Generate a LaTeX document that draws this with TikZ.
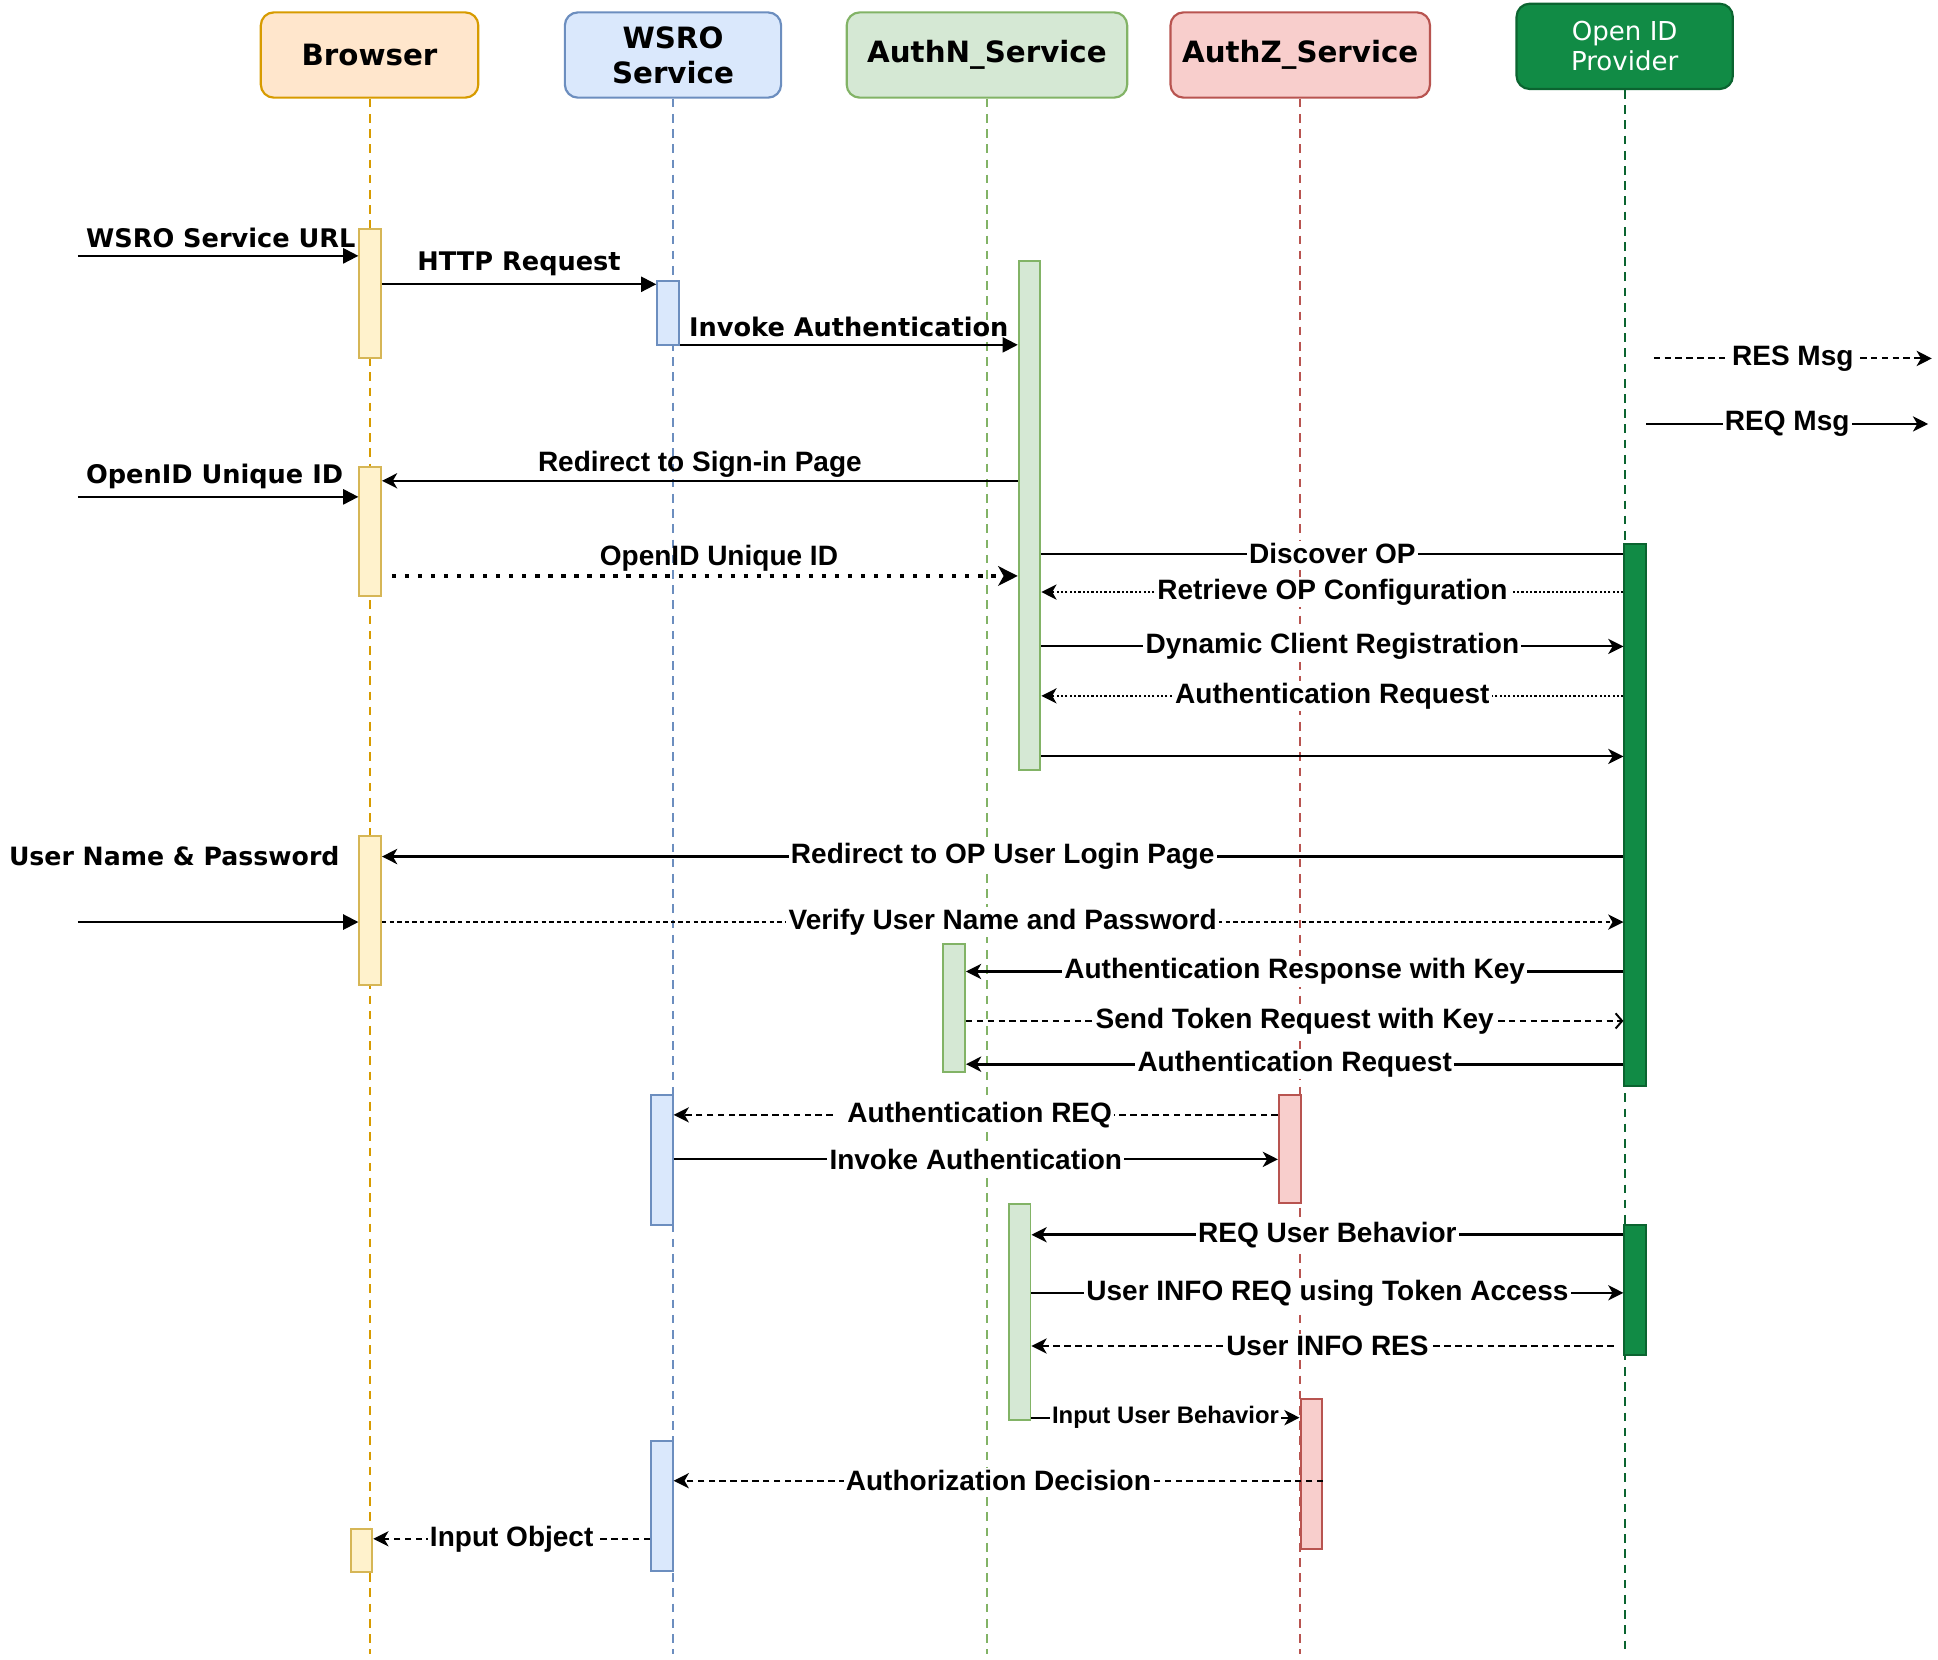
\documentclass[tikz,border=0pt]{standalone}
\usepackage{fontspec}
\setmainfont{Liberation Sans}
\newfontfamily\dejavu{DejaVu Sans}
\usetikzlibrary{arrows.meta}

\definecolor{orgfill}{HTML}{FFE6CC}
\definecolor{orgline}{HTML}{D79B00}
\definecolor{bluefill}{HTML}{DAE8FC}
\definecolor{blueline}{HTML}{6C8EBF}
\definecolor{grnfill}{HTML}{D5E8D4}
\definecolor{grnline}{HTML}{82B366}
\definecolor{redfill}{HTML}{F8CECC}
\definecolor{redline}{HTML}{B85450}
\definecolor{yelfill}{HTML}{FFF2CC}
\definecolor{yelline}{HTML}{D6B656}
\definecolor{opfill}{HTML}{118B45}
\definecolor{opline}{HTML}{0B6430}

\begin{document}
\begin{tikzpicture}[x=0.02cm, y=-0.02cm,
  head/.style={draw, rounded corners=6pt, line width=1pt, minimum height=1.38cm,
    align=center, font=\dejavu\bfseries\fontsize{13.5}{16}\selectfont},
  life/.style={line width=0.9pt, dash pattern=on 4pt off 3pt},
  bar/.style={draw, line width=0.9pt, minimum width=0.35cm, inner sep=0pt},
  ybar/.style={bar, draw=yelline, fill=yelfill},
  bbar/.style={bar, draw=blueline, fill=bluefill},
  gbar/.style={bar, draw=grnline, fill=grnfill},
  rbar/.style={bar, draw=redline, fill=redfill},
  obar/.style={bar, draw=opline, fill=opfill},
  msg/.style={line width=0.9pt},
  lbl/.style={fill=white, inner sep=1pt, font=\bfseries\fontsize{12.9}{15}\selectfont},
  sidelbl/.style={font=\dejavu\bfseries\fontsize{11.8}{14}\selectfont},
  tri/.style={-{Triangle[length=7pt,width=7pt]}},
  stl/.style={-{Stealth[length=7pt,width=7pt,inset=2pt]}},
  opn/.style={-{Straight Barb[length=3pt,width=7pt]}},
  dsh/.style={dash pattern=on 3pt off 2pt},
  dts/.style={dash pattern=on 1pt off 1pt}
]
\useasboundingbox (0,0) rectangle (1568,1343);

% participants
\node[head, draw=orgline, fill=orgfill, minimum width=3.52cm] (browser) at (299,44.5) {Browser};
\node[head, draw=blueline, fill=bluefill, minimum width=3.5cm] (wsro) at (544.5,44.5) {WSRO\\Service};
\node[head, draw=grnline, fill=grnfill, minimum width=4.54cm] (authn) at (798.5,44.5) {AuthN\_Service};
\node[head, draw=redline, fill=redfill, minimum width=4.2cm] (authz) at (1052,44.5) {AuthZ\_Service};
\node[head, draw=opline, fill=opfill, minimum width=3.5cm, text=white,
  font=\dejavu\fontsize{12}{13.7}\selectfont] (op) at (1314.5,37.5) {Open ID\\Provider};

% lifelines
\foreach \h/\c in {browser/orgline, wsro/blueline, authn/grnline, authz/redline, op/opline}
  \draw[life, \c] (\h.south) -- (\h.south |- 0,1338);

% activation bars
\node[ybar, minimum height=2.1cm] (b1) at (299.5,237.5) {};
\node[ybar, minimum height=2.08cm] (b2) at (299.5,430) {};
\node[ybar, minimum height=2.42cm] (b3) at (299.5,736.5) {};
\node[ybar, minimum height=0.7cm] (b4) at (292.5,1254.5) {};
\node[bbar, minimum height=1.04cm] (w1) at (540.5,253) {};
\node[bbar, minimum height=2.1cm] (w2) at (535.5,938.5) {};
\node[bbar, minimum height=2.1cm] (w3) at (535.5,1218.5) {};
\node[gbar, minimum height=8.24cm] (n1) at (833,417) {};
\node[gbar, minimum height=2.06cm] (n2) at (772,815.5) {};
\node[gbar, minimum height=3.5cm] (n3) at (825,1061.5) {};
\node[rbar, minimum height=1.74cm] (z1) at (1043.5,929.5) {};
\node[rbar, minimum height=2.42cm] (z2) at (1061,1192.5) {};
\node[obar, minimum height=8.78cm] (p1) at (1323,659.5) {};
\node[obar, minimum height=2.1cm] (p2) at (1323,1043.5) {};

% legend
\coordinate (resA) at (1338,290);
\coordinate (resB) at (1563,290);
\draw[msg, dsh, stl] (resA) -- node[lbl]{RES Msg} (resB);
\coordinate (reqA) at (1332,343);
\coordinate (reqB) at (1560,343);
\draw[msg, stl] (reqA) -- node[lbl]{REQ Msg} (reqB);

% sign-in
\coordinate (in1) at (63,207);
\draw[msg, tri] (in1) -- (b1.west |- in1) node[pos=0, above right, sidelbl] {WSRO Service URL};
\draw[msg, tri] (b1.east |- 0,230) -- node[above, sidelbl] {HTTP Request} (w1.west |- 0,230);
\draw[msg, tri] (w1.east |- 0,279) -- node[above, sidelbl] {Invoke Authentication} (n1.west |- 0,279);
\draw[msg, stl] (n1.west |- 0,389) -- node[above, lbl, fill=none] {Redirect to Sign-in Page} (b2.east |- 0,389);
\coordinate (in2) at (63,402);
\draw[msg, tri] (in2) -- (b2.west |- in2) node[pos=0, above right, sidelbl] {OpenID Unique ID};
\draw[line width=2pt, dash pattern=on 2pt off 4pt, -{Stealth[length=9pt,width=9pt,inset=2.5pt]},
  shorten <=0.16cm] (b2.east |- 0,466) -- node[pos=0.53, above, lbl, fill=none] {OpenID Unique ID} (n1.west |- 0,466);

% OP discovery
\draw[msg] (n1.east |- 0,448) -- node[lbl] {Discover OP} (p1.west |- 0,448);
\draw[msg, dts, stl] (p1.west |- 0,479) -- node[lbl] {Retrieve OP Configuration} (n1.east |- 0,479);
\draw[msg, stl] (n1.east |- 0,523) -- node[lbl] {Dynamic Client Registration} (p1.west |- 0,523);
\draw[msg, dts, stl] (p1.west |- 0,563) -- node[lbl] {Authentication Request} (n1.east |- 0,563);
\draw[msg, stl] (n1.east |- 0,612) -- (p1.west |- 0,612);

% user login
\draw[line width=1.6pt, stl] (p1.west |- 0,693) -- node[lbl] {Redirect to OP User Login Page} (b3.east |- 0,693);
\node[sidelbl, anchor=east, inner sep=0pt, font=\dejavu\bfseries\fontsize{11.6}{14}\selectfont] (unpw) at (275,693) {User Name \& Password};
\coordinate (in3) at (63,746);
\draw[msg, tri] (in3) -- (b3.west |- in3);
\draw[msg, dash pattern=on 2pt off 1.5pt, stl] (b3.east |- 0,746) -- node[lbl] {Verify User Name and Password} (p1.west |- 0,746);

% token
\draw[line width=1.3pt, stl] (p1.west |- 0,786) -- node[lbl] {Authentication Response with Key} (n2.east |- 0,786);
\draw[msg, dsh, opn] (n2.east |- 0,826) -- node[lbl] {Send Token Request with Key} (p1.west |- 0,826);
\draw[line width=1.3pt, stl] (p1.west |- 0,861) -- node[lbl] {Authentication Request} (n2.east |- 0,861);

% authorization
\draw[msg, dsh, stl] (z1.west |- 0,902) -- node[lbl] {\ Authentication REQ\ } (w2.east |- 0,902);
\draw[msg, stl] (w2.east |- 0,938) -- node[lbl] {Invoke Authentication} (z1.west |- 0,938);
\draw[line width=1.3pt, stl] (p2.west |- 0,999) -- node[lbl] {REQ User Behavior} (n3.east |- 0,999);
\draw[msg, stl] (n3.east |- 0,1046) -- node[lbl] {User INFO REQ using Token Access} (p2.west |- 0,1046);
\draw[msg, dsh, stl, shorten <=0.16cm] (p2.west |- 0,1089) -- node[lbl] {User INFO RES} (n3.east |- 0,1089);
\draw[msg, stl] (n3.east |- 0,1147) -- node[lbl, font=\bfseries\fontsize{11}{13}\selectfont] {Input User Behavior} (z2.west |- 0,1147);
\draw[msg, dsh, stl] (z2.east |- 0,1198) -- node[lbl] {Authorization Decision} (w3.east |- 0,1198);
\draw[msg, dsh, stl] (w3.west |- 0,1245) -- node[lbl] {Input Object} (b4.east |- 0,1245);
\end{tikzpicture}
\end{document}
